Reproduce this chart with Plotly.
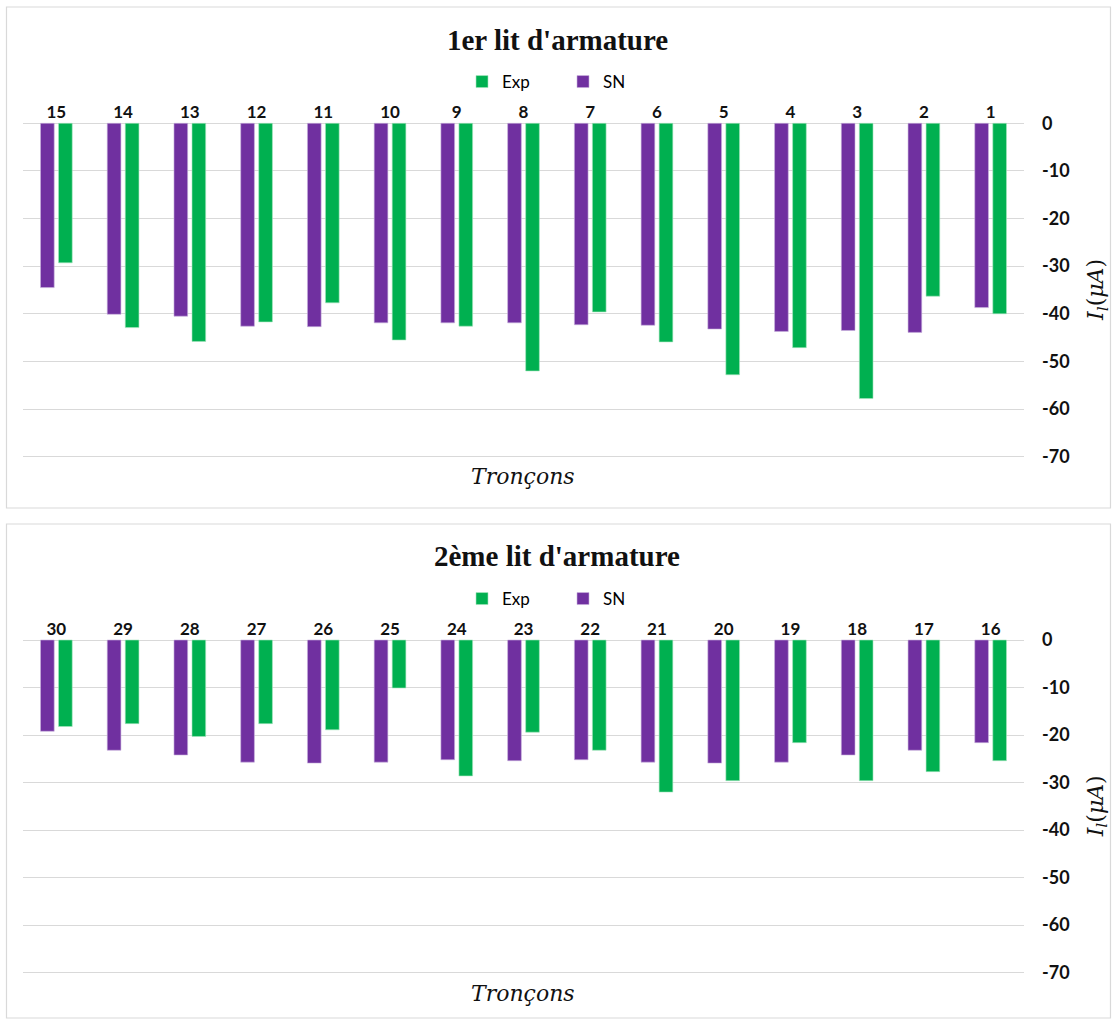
import plotly.graph_objects as go

W, H = 1112, 1019

# ---- data ----
cats_top = ["15", "14", "13", "12", "11", "10", "9", "8", "7", "6", "5", "4", "3", "2", "1"]
sn_top = [-34.5, -40.1, -40.5, -42.6, -42.7, -41.9, -41.9, -41.9, -42.3, -42.4, -43.2, -43.7, -43.5, -43.9, -38.7]
exp_top = [-29.3, -42.9, -45.8, -41.7, -37.7, -45.5, -42.6, -52.0, -39.6, -45.9, -52.8, -47.1, -57.8, -36.3, -40.0]

cats_bot = ["30", "29", "28", "27", "26", "25", "24", "23", "22", "21", "20", "19", "18", "17", "16"]
sn_bot = [-19.2, -23.2, -24.2, -25.7, -25.9, -25.7, -25.2, -25.4, -25.2, -25.7, -25.9, -25.7, -24.2, -23.2, -21.6]
exp_bot = [-18.2, -17.6, -20.3, -17.6, -18.9, -10.1, -28.6, -19.4, -23.2, -32.0, -29.6, -21.6, -29.6, -27.7, -25.4]

y_ticks = [0, -10, -20, -30, -40, -50, -60, -70]
titles = ["1er lit d'armature", "2ème lit d'armature"]
series_names = ["SN", "Exp"]
x_title = "Tronçons"

# ---- style ----
PURPLE = "#7030A0"
GREEN = "#00B050"
GRID = "#D9D9D9"
SANS = "Lato"
SERIF = "Liberation Serif"
MATH = "DejaVu Serif"
PAD = 0.3          # axis padding (units) so edge gridlines are drawn
PX_PER_UNIT = 4.76


def px_x(x):
    return x / W


def px_y(y):
    return 1 - y / H


x_dom = [px_x(23), px_x(1024)]
panels = [
    dict(cats=cats_top, sn=sn_top, exp=exp_top, top=123.3, bot=456.7, title_y=40, legend_y=82,
         box=(7, 508), xt_y=476, title=titles[0]),
    dict(cats=cats_bot, sn=sn_bot, exp=exp_bot, top=640.0, bot=972.7, title_y=556, legend_y=599,
         box=(524, 1018), xt_y=993, title=titles[1]),
]

fig = go.Figure()
annotations = []
shapes = []
layout_axes = {}

for i, p in enumerate(panels):
    suffix = "" if i == 0 else str(i + 1)
    legend_name = "legend" if i == 0 else "legend2"
    fig.add_trace(go.Bar(
        x=p["cats"], y=p["sn"], name=series_names[0],
        marker=dict(color=PURPLE, line=dict(width=0.6, color="#C9B3DD")),
        xaxis="x" + suffix, yaxis="y" + suffix, legend=legend_name,
    ))
    fig.add_trace(go.Bar(
        x=p["cats"], y=p["exp"], name=series_names[1],
        marker=dict(color=GREEN, line=dict(width=0.6, color="#A8E6C0")),
        xaxis="x" + suffix, yaxis="y" + suffix, legend=legend_name,
    ))

    pad_px = PAD * PX_PER_UNIT
    layout_axes["xaxis" + suffix] = dict(
        domain=x_dom, anchor="y" + suffix, side="top", type="category",
        categoryorder="array", categoryarray=p["cats"],
        showgrid=False, showline=False, zeroline=False, ticks="",
        tickfont=dict(family=SANS, size=17, color="#111", weight="bold"),
        ticklabelstandoff=-1,
    )
    layout_axes["yaxis" + suffix] = dict(
        domain=[px_y(p["bot"] + pad_px), px_y(p["top"] - pad_px)], anchor="x" + suffix, side="right",
        range=[-70 - PAD, 0 + PAD], tickvals=y_ticks, ticktext=[str(v) for v in y_ticks],
        showgrid=True, gridcolor=GRID, gridwidth=1, zeroline=False, showline=False,
        ticks="", ticklabelstandoff=17,
        tickfont=dict(family=SANS, size=18, color="#111", weight="bold"),
    )
    layout_axes[legend_name] = dict(
        orientation="h", x=px_x(462), xanchor="left", y=px_y(p["legend_y"]), yanchor="middle",
        traceorder="reversed", font=dict(family=SANS, size=17, color="#000"),
        bgcolor="rgba(0,0,0,0)", itemclick=False, entrywidth=56, entrywidthmode="pixels",
    )

    annotations.append(dict(
        text="<b>" + p["title"] + "</b>", x=px_x(557), y=px_y(p["title_y"]),
        xref="paper", yref="paper", showarrow=False, xanchor="center", yanchor="middle",
        font=dict(family=SERIF, size=29, color="#111"),
    ))
    annotations.append(dict(
        text="<i>" + x_title + "</i>", x=px_x(523), y=px_y(p["xt_y"]),
        xref="paper", yref="paper", showarrow=False, xanchor="center", yanchor="middle",
        font=dict(family=MATH, size=22, color="#111"),
    ))
    annotations.append(dict(
        text="<i>I<sub>l</sub></i>(<i>μA</i>)", x=px_x(1097), y=px_y((p["top"] + p["bot"]) / 2),
        xref="paper", yref="paper", showarrow=False, xanchor="center", yanchor="middle",
        textangle=-90, font=dict(family=MATH, size=22, color="#111"),
    ))
    shapes.append(dict(
        type="rect", xref="paper", yref="paper",
        x0=px_x(6.5), x1=px_x(1110.5), y0=px_y(p["box"][1]), y1=px_y(p["box"][0]),
        line=dict(color=GRID, width=1.2), fillcolor="rgba(0,0,0,0)", layer="below",
    ))

fig.update_layout(
    width=W, height=H,
    margin=dict(l=0, r=0, t=0, b=0, autoexpand=False),
    paper_bgcolor="white", plot_bgcolor="white",
    barmode="group", bargap=0.46, bargroupgap=0.24,
    annotations=annotations, shapes=shapes,
    **layout_axes,
)

fig.write_html(
    "out.html",
    config={"displayModeBar": False},
    post_script="document.body.style.margin='0';document.body.style.overflow='hidden';",
)
